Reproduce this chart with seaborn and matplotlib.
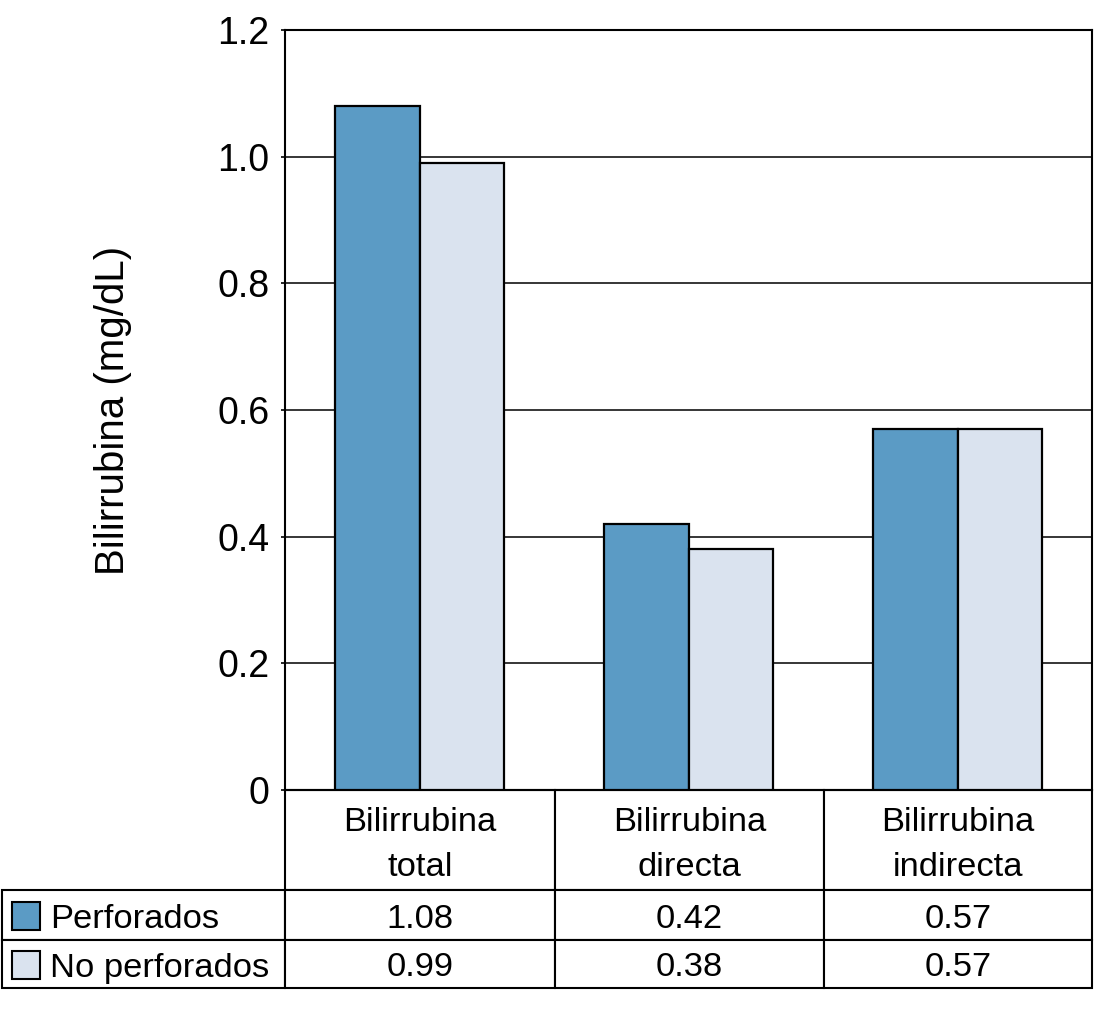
import matplotlib
matplotlib.use("Agg")
import matplotlib.pyplot as plt
import seaborn as sns
import pandas as pd
from matplotlib.table import Table
from matplotlib.patches import Rectangle
from matplotlib.transforms import Affine2D

# ---- data ----
categories = ["Bilirrubina\ntotal", "Bilirrubina\ndirecta", "Bilirrubina\nindirecta"]
groups = ["Perforados", "No perforados"]
perforados = [1.08, 0.42, 0.57]
no_perforados = [0.99, 0.38, 0.57]
perforados_txt = ["1.08", "0.42", "0.57"]
no_perforados_txt = ["0.99", "0.38", "0.57"]
yticks = [0, 0.2, 0.4, 0.6, 0.8, 1.0, 1.2]
ytick_labels = ["0", "0.2", "0.4", "0.6", "0.8", "1.0", "1.2"]
ylabel = "Bilirrubina (mg/dL)"
colors = ["#5b9bc5", "#dae3ef"]

sns.set_theme(style="white")
plt.rcParams["font.family"] = ["Liberation Sans", "DejaVu Sans"]
plt.rcParams["text.color"] = "black"
plt.rcParams["axes.labelcolor"] = "black"

W, H = 1095, 1024
fig = plt.figure(figsize=(W / 100, H / 100), dpi=100)
AX_L, AX_R, AX_T, AX_B = 285, 1092, 30, 790
ax = fig.add_axes([AX_L / W, 1 - AX_B / H, (AX_R - AX_L) / W, (AX_B - AX_T) / H])
axw, axh = AX_R - AX_L, AX_B - AX_T


def px2ax(px, py):
    return (px - AX_L) / axw, (AX_B - py) / axh


df = pd.DataFrame({
    "cat": categories * 2,
    "group": [groups[0]] * 3 + [groups[1]] * 3,
    "value": perforados + no_perforados,
})

sns.barplot(data=df, x="cat", y="value", hue="group", hue_order=groups,
            palette=colors, saturation=1, width=0.63, edgecolor="black",
            linewidth=1.6, legend=False, ax=ax, zorder=3)

ax.set_ylim(0, 1.2)
ax.set_yticks(yticks)
ax.set_yticklabels(ytick_labels, fontsize=27, color="black")
ax.set_xticks([])
ax.set_xlabel("")
ax.set_ylabel(ylabel, fontsize=29, color="black")
ax.yaxis.set_label_coords(px2ax(132, 0)[0], 0.5)
ax.tick_params(axis="y", left=True, length=3, width=1.2, pad=8, colors="black")
ax.yaxis.grid(True, color="black", linewidth=1.1)
ax.set_axisbelow(True)
for s in ax.spines.values():
    s.set_visible(True)
    s.set_color("black")
    s.set_linewidth(1.5)

# ---- table ----
col_w = [270 / axw, 269 / axw, 268 / axw]
lab_w = 283 / axw
row_h = [100 / axh, 50 / axh, 48 / axh]
tbl = Table(ax, bbox=[0, -sum(row_h), 1, sum(row_h)])
tbl.auto_set_font_size(False)
rows = [categories, perforados_txt, no_perforados_txt]
for r in range(3):
    for c in range(3):
        cell = tbl.add_cell(r, c, width=col_w[c], height=row_h[r],
                            text=rows[r][c], loc="center", facecolor="white",
                            edgecolor="black")
        cell.set_linewidth(1.5)
        t = cell.get_text()
        t.set_fontsize(24.8)
        t.set_color("black")
        if r == 0:
            t.set_linespacing(1.58)
            t.set_transform(Affine2D().translate(0, -5))
        else:
            t.set_transform(Affine2D().translate(0, -4))
    if r > 0:
        cell = tbl.add_cell(r, -1, width=lab_w, height=row_h[r], text="",
                            facecolor="white", edgecolor="black")
        cell.set_linewidth(1.5)
ax.add_table(tbl)

# legend entries inside row-label cells
row_centers = [916, 965]
for i, g in enumerate(groups):
    cy = row_centers[i]
    x0, y0 = px2ax(12, cy + 14)
    x1, y1 = px2ax(40, cy - 14)
    ax.add_patch(Rectangle((x0, y0), x1 - x0, y1 - y0, transform=ax.transAxes,
                           facecolor=colors[i], edgecolor="black", linewidth=1.5,
                           clip_on=False, zorder=10))
    tx, ty = px2ax(50, cy + 4)
    ax.text(tx, ty, g, transform=ax.transAxes, ha="left", va="center",
            fontsize=24.8, color="black", zorder=10)

fig.savefig("out.png", dpi=100)
